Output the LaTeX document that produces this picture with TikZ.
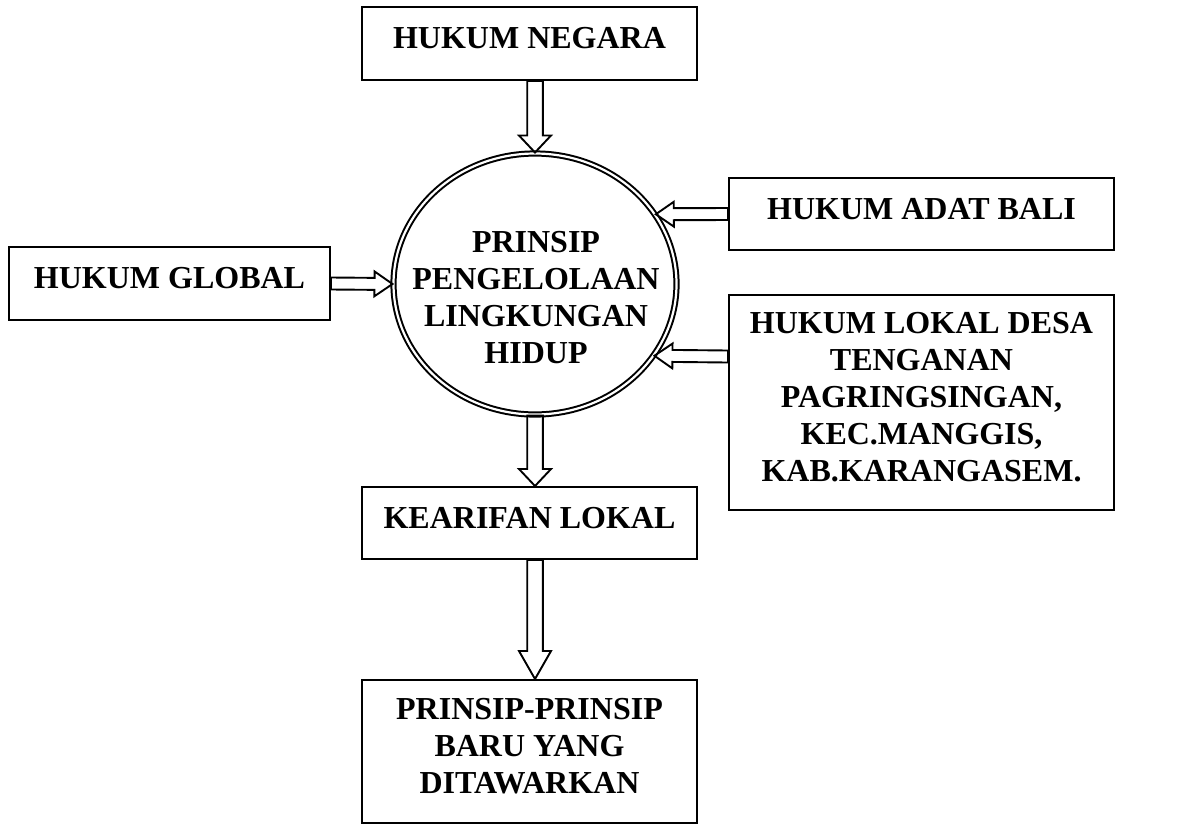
\documentclass[tikz,border=0pt]{standalone}
\usepackage{fontspec}
\setmainfont{Liberation Serif}
\usetikzlibrary{calc, shapes.geometric}

\tikzset{
  arrshaft/.store in=\arrshaft, arrshaft=3.9pt,
  arrhead/.store in=\arrhead, arrhead=8pt,
  arrlen/.store in=\arrlen, arrlen=8.5pt,
  hollow arrow/.style={draw, line width=0.95pt, line join=miter, to path={
    ($(\tikztostart)!\arrshaft!90:(\tikztotarget)$)
    -- ($(\tikztotarget)!\arrlen!(\tikztostart)!\arrshaft!90:(\tikztotarget)$)
    -- ($(\tikztotarget)!\arrlen!(\tikztostart)!\arrhead!90:(\tikztotarget)$)
    -- (\tikztotarget)
    -- ($(\tikztotarget)!\arrlen!(\tikztostart)!\arrhead!-90:(\tikztotarget)$)
    -- ($(\tikztotarget)!\arrlen!(\tikztostart)!\arrshaft!-90:(\tikztotarget)$)
    -- ($(\tikztostart)!\arrshaft!-90:(\tikztotarget)$) -- cycle}}
}

\begin{document}
\begin{tikzpicture}[x=0.5pt, y=-0.5pt,
    every node/.style={font=\bfseries\fontsize{16}{18.5}\selectfont,
      align=center, inner sep=0pt},
    box/.style={draw, line width=1pt, text depth=5.5pt},
    core/.style={draw, ellipse, double, double distance=1.1pt, line width=1pt,
      minimum width=141.5pt, minimum height=130.5pt},
    side/.style={arrshaft=3pt, arrhead=6.2pt, arrlen=9pt}]

  \useasboundingbox (0,0) rectangle (1197,825);

  % boxes
  \node[box, minimum width=167.5pt, minimum height=36.5pt]
    (negara) at (529.5,43.5) {HUKUM NEGARA};
  \node[box, minimum width=192.5pt, minimum height=36pt]
    (adat) at (921.5,214) {HUKUM ADAT BALI};
  \node[box, minimum width=192.5pt, minimum height=107.5pt]
    (lokal) at (921.5,402.5) {HUKUM LOKAL DESA\\TENGANAN\\PAGRINGSINGAN,\\KEC.MANGGIS,\\KAB.KARANGASEM.};
  \node[box, minimum width=160.5pt, minimum height=36.5pt]
    (global) at (169.5,283.5) {HUKUM GLOBAL};
  \node[box, minimum width=167.5pt, minimum height=36pt]
    (kearifan) at (529.5,523) {KEARIFAN LOKAL};
  \node[box, minimum width=167.5pt, minimum height=71.5pt]
    (baru) at (529.5,751.5) {PRINSIP-PRINSIP\\BARU YANG\\DITAWARKAN};

  % centre
  \node[core] (core) at (535,284) {};
  \node (coretext) at (536,297.5) {PRINSIP\\PENGELOLAAN\\LINGKUNGAN\\HIDUP};

  % block arrows
  \draw[hollow arrow] (core.north |- negara.south) to (core.north);
  \draw[hollow arrow, side] (adat.west) to (core.30.3);
  \draw[hollow arrow, side] ([yshift=23pt]lokal.west) to (core.-31.5);
  \draw[hollow arrow, side] (global.east) to (core.west);
  \draw[hollow arrow] (core.south) to (core.south |- kearifan.north);
  \draw[hollow arrow, arrlen=14pt] (core.south |- kearifan.south) to (core.south |- baru.north);

\end{tikzpicture}
\end{document}
